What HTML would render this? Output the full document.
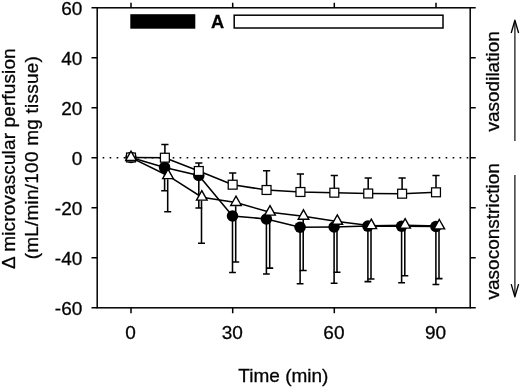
<!DOCTYPE html>
<html><head><meta charset="utf-8"><title>chart</title>
<style>html,body{margin:0;padding:0;background:#fff;overflow:hidden}svg{display:block;position:absolute;left:0;top:0}</style></head>
<body>
<svg width="520" height="387" viewBox="0 0 520 387">
<rect width="520" height="387" fill="#fff"/>
<g fill="none" stroke="#000" stroke-width="1.5" stroke-linecap="butt">
<rect x="97.2" y="7.8" width="373" height="300"/>
<path d="M91.5 7.8H97.2M470.2 7.8H475.7"/>
<path d="M91.5 57.8H97.2M470.2 57.8H475.7"/>
<path d="M91.5 107.8H97.2M470.2 107.8H475.7"/>
<path d="M91.5 157.8H97.2M470.2 157.8H475.7"/>
<path d="M91.5 207.8H97.2M470.2 207.8H475.7"/>
<path d="M91.5 257.8H97.2M470.2 257.8H475.7"/>
<path d="M91.5 307.8H97.2M470.2 307.8H475.7"/>
<path d="M131.0 2.8V7.8M131.0 307.8V313.2"/>
<path d="M232.7 2.8V7.8M232.7 307.8V313.2"/>
<path d="M334.3 2.8V7.8M334.3 307.8V313.2"/>
<path d="M436.0 2.8V7.8M436.0 307.8V313.2"/>
</g>
<path d="M102.66 157.8H470" stroke="#000" stroke-width="1.6" stroke-dasharray="1.6 5.4" fill="none"/>
<rect x="130.3" y="14.2" width="65.0" height="14.5" fill="#000"/>
<rect x="234.2" y="15.2" width="208.8" height="12.8" fill="#fff" stroke="#000" stroke-width="1.5"/>
<g fill="none" stroke="#000" stroke-width="1.55">
<path d="M164.6 167.4V190.7M161.2 190.7H168.0"/>
<path d="M198.8 175.5V208M195.4 208H202.2"/>
<path d="M232.5 216.0V272.4M229.1 272.4H235.9"/>
<path d="M266.4 219.0V274M263.0 274H269.8"/>
<path d="M300.1 227.2V283.7M296.7 283.7H303.5"/>
<path d="M334.1 227.0V283.3M330.7 283.3H337.5"/>
<path d="M367.9 226.1V281.6M364.5 281.6H371.3"/>
<path d="M401.6 226.3V282.8M398.2 282.8H405.0"/>
<path d="M435.9 226.5V284.4M432.5 284.4H439.3"/>
<path d="M131.0 157.5L164.6 167.4L198.8 175.5L232.5 216.0L266.4 219.0L300.1 227.2L334.1 227.0L367.9 226.1L401.6 226.3L435.9 226.5"/>
</g>
<circle cx="131.0" cy="157.5" r="5.75" fill="#000"/>
<circle cx="164.6" cy="167.4" r="5.75" fill="#000"/>
<circle cx="198.8" cy="175.5" r="5.75" fill="#000"/>
<circle cx="232.5" cy="216.0" r="5.75" fill="#000"/>
<circle cx="266.4" cy="219.0" r="5.75" fill="#000"/>
<circle cx="300.1" cy="227.2" r="5.75" fill="#000"/>
<circle cx="334.1" cy="227.0" r="5.75" fill="#000"/>
<circle cx="367.9" cy="226.1" r="5.75" fill="#000"/>
<circle cx="401.6" cy="226.3" r="5.75" fill="#000"/>
<circle cx="435.9" cy="226.5" r="5.75" fill="#000"/>
<g fill="none" stroke="#000" stroke-width="1.55">
<path d="M164.9 157.7V144.4M161.3 144.4H168.5"/>
<path d="M198.8 171.0V163M195.2 163H202.4"/>
<path d="M232.7 184.7V173M229.1 173H236.3"/>
<path d="M266.6 190.0V170.7M263.0 170.7H270.2"/>
<path d="M300.4 192.0V174M296.8 174H304.0"/>
<path d="M334.3 192.7V175.5M330.7 175.5H337.9"/>
<path d="M368.2 193.5V178M364.6 178H371.8"/>
<path d="M402.1 193.7V178M398.5 178H405.7"/>
<path d="M436.0 192.3V175.4M432.4 175.4H439.6"/>
<path d="M131.0 157.5L164.9 157.7L198.8 171.0L232.7 184.7L266.6 190.0L300.4 192.0L334.3 192.7L368.2 193.5L402.1 193.7L436.0 192.3"/>
</g>
<rect x="126.55" y="153.05" width="8.9" height="8.9" fill="#fff" stroke="#000" stroke-width="1.25"/>
<rect x="160.44" y="153.25" width="8.9" height="8.9" fill="#fff" stroke="#000" stroke-width="1.25"/>
<rect x="194.33" y="166.55" width="8.9" height="8.9" fill="#fff" stroke="#000" stroke-width="1.25"/>
<rect x="228.22" y="180.25" width="8.9" height="8.9" fill="#fff" stroke="#000" stroke-width="1.25"/>
<rect x="262.11" y="185.55" width="8.9" height="8.9" fill="#fff" stroke="#000" stroke-width="1.25"/>
<rect x="295.99" y="187.55" width="8.9" height="8.9" fill="#fff" stroke="#000" stroke-width="1.25"/>
<rect x="329.88" y="188.25" width="8.9" height="8.9" fill="#fff" stroke="#000" stroke-width="1.25"/>
<rect x="363.77" y="189.05" width="8.9" height="8.9" fill="#fff" stroke="#000" stroke-width="1.25"/>
<rect x="397.66" y="189.25" width="8.9" height="8.9" fill="#fff" stroke="#000" stroke-width="1.25"/>
<rect x="431.55" y="187.85" width="8.9" height="8.9" fill="#fff" stroke="#000" stroke-width="1.25"/>
<g fill="none" stroke="#000" stroke-width="1.55">
<path d="M167.7 179.3V211.8M164.2 211.8H171.2"/>
<path d="M201.5 200.8V243.2M198.0 243.2H205.0"/>
<path d="M235.7 206.2V262M232.2 262H239.2"/>
<path d="M269.7 215.8V268.1M266.2 268.1H273.2"/>
<path d="M303.2 219.9V270.5M299.7 270.5H306.7"/>
<path d="M337.0 225.0V272.3M333.5 272.3H340.5"/>
<path d="M371.0 229.3V279M367.5 279H374.5"/>
<path d="M404.8 228.8V275.8M401.3 275.8H408.3"/>
<path d="M439.0 229.6V278.6M435.5 278.6H442.5"/>
<path d="M131.0 157.6L168.0 175.7L201.8 197.2L236.0 202.6L270.0 212.2L303.5 216.3L337.3 221.4L371.3 225.7L405.1 225.2L439.3 226.0"/>
</g>
<path d="M131.0 151.10L136.30 160.5H125.70Z" fill="#fff" stroke="#000" stroke-width="1.4" stroke-linejoin="miter"/>
<path d="M168.0 169.20L173.30 178.6H162.70Z" fill="#fff" stroke="#000" stroke-width="1.4" stroke-linejoin="miter"/>
<path d="M201.8 190.70L207.10 200.1H196.50Z" fill="#fff" stroke="#000" stroke-width="1.4" stroke-linejoin="miter"/>
<path d="M236.0 196.10L241.30 205.5H230.70Z" fill="#fff" stroke="#000" stroke-width="1.4" stroke-linejoin="miter"/>
<path d="M270.0 205.70L275.30 215.1H264.70Z" fill="#fff" stroke="#000" stroke-width="1.4" stroke-linejoin="miter"/>
<path d="M303.5 209.80L308.80 219.2H298.20Z" fill="#fff" stroke="#000" stroke-width="1.4" stroke-linejoin="miter"/>
<path d="M337.3 214.90L342.60 224.3H332.00Z" fill="#fff" stroke="#000" stroke-width="1.4" stroke-linejoin="miter"/>
<path d="M371.3 219.20L376.60 228.6H366.00Z" fill="#fff" stroke="#000" stroke-width="1.4" stroke-linejoin="miter"/>
<path d="M405.1 218.70L410.40 228.1H399.80Z" fill="#fff" stroke="#000" stroke-width="1.4" stroke-linejoin="miter"/>
<path d="M439.3 219.50L444.60 228.9H434.00Z" fill="#fff" stroke="#000" stroke-width="1.4" stroke-linejoin="miter"/>
<g fill="none" stroke="#000" stroke-width="1.15">
<path d="M514.9 141V21"/><path d="M514.9 175V296"/>
</g>
<g fill="none" stroke="#000" stroke-width="1.35" stroke-linejoin="round">
<path d="M511.2 33L514.9 20.2L518.6 33"/>
<path d="M511.2 284.1L514.9 296.8L518.6 284.1"/>
</g>
<g font-family="Liberation Sans, sans-serif" font-size="19" fill="#000" stroke="#000" stroke-width="0.3" style="opacity:0.999">
<text x="82.3" y="14.7" text-anchor="end">60</text>
<text x="82.3" y="64.7" text-anchor="end">40</text>
<text x="82.3" y="114.7" text-anchor="end">20</text>
<text x="82.3" y="164.7" text-anchor="end">0</text>
<text x="82.3" y="214.7" text-anchor="end">-20</text>
<text x="82.3" y="264.7" text-anchor="end">-40</text>
<text x="82.3" y="314.7" text-anchor="end">-60</text>
<text x="130.6" y="339" text-anchor="middle">0</text>
<text x="232.3" y="339" text-anchor="middle">30</text>
<text x="333.9" y="339" text-anchor="middle">60</text>
<text x="435.6" y="339" text-anchor="middle">90</text>
<text x="283.4" y="381.7" text-anchor="middle">Time (min)</text>
<text transform="translate(15.3 158.6) rotate(-90)" text-anchor="middle" textLength="220.6">&#916; microvascular perfusion</text>
<text transform="translate(37.9 157.75) rotate(-90)" text-anchor="middle" textLength="203.2">(mL/min/100 mg tissue)</text>
<text transform="translate(498.8 81.35) rotate(-90)" text-anchor="middle">vasodilation</text>
<text transform="translate(498.8 231.35) rotate(-90)" text-anchor="middle">vasoconstriction</text>
<text x="217.65" y="28.1" text-anchor="middle" font-weight="bold" font-size="18.2">A</text>
</g>
</svg>
</body></html>
